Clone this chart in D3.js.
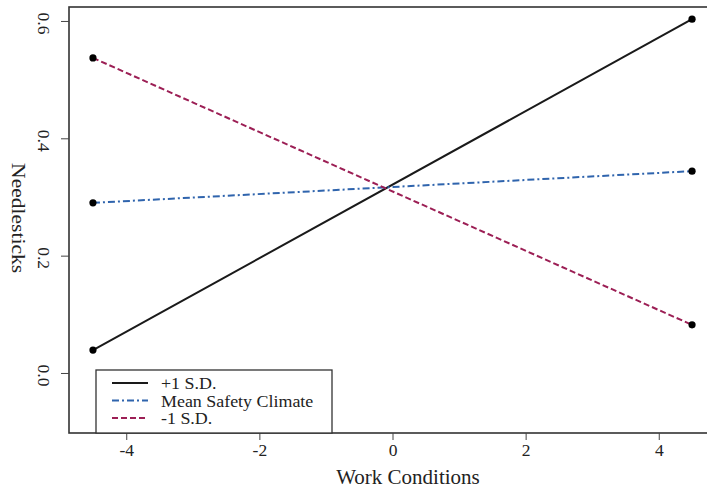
<!DOCTYPE html>
<html lang="en">
<head>
<meta charset="utf-8">
<script src="https://d3js.org/d3.v7.min.js"></script>
<style>
  body { margin: 0; background: #fff; }
  svg text { font-family: "Liberation Serif", "DejaVu Serif", serif; fill: #222; }
</style>
</head>
<body>
<svg width="707" height="489"></svg>
<script>
// values
const xEnds = [-4.5, 4.5];
const plusSD = [0.039, 0.603];
const meanSC = [0.290, 0.344];
const minusSD = [0.537, 0.082];
const xTicks = [-4, -2, 0, 2, 4];
const yTicks = [0.0, 0.2, 0.4, 0.6];
const seriesNames = ['+1 S.D.', 'Mean Safety Climate', '-1 S.D.'];

const series = [
  { name: seriesNames[0], values: plusSD, color: '#1a1a1a', dash: null },
  { name: seriesNames[1], values: meanSC, color: '#2f64ad', dash: '7,3,2,3' },
  { name: seriesNames[2], values: minusSD, color: '#9c1f55', dash: '6,3' }
];

const svg = d3.select('svg');
const pLeft = 69, pTop = 7, pBottom = 433, pRight = 716;
const tickFont = 17.5;

const x = d3.scaleLinear().domain([-4.86, 4.86]).range([pLeft, pRight]);
const y = d3.scaleLinear().domain([-0.1023, 0.6238]).range([pBottom, pTop]);

// frame
svg.append('rect')
  .attr('x', pLeft).attr('y', pTop)
  .attr('width', pRight - pLeft).attr('height', pBottom - pTop)
  .attr('fill', 'none').attr('stroke', '#333').attr('stroke-width', 1.6);

// x axis
const xAxisG = svg.append('g').attr('transform', `translate(0,${pBottom})`);
xAxisG.call(d3.axisBottom(x).tickValues(xTicks).tickSize(7).tickPadding(4)
  .tickFormat(d => d < 0 ? '-' + Math.abs(d) : d));
xAxisG.select('.domain').remove();
xAxisG.selectAll('.tick line').attr('stroke', '#444');
xAxisG.selectAll('.tick text')
  .attr('font-size', tickFont)
  .style('font-family', '"Liberation Serif", serif').attr('fill', '#222');

// y axis, labels read top to bottom
const yAxisG = svg.append('g').attr('transform', `translate(${pLeft},0)`);
yAxisG.call(d3.axisLeft(y).tickValues(yTicks).tickSize(8).tickFormat(d3.format('.1f')));
yAxisG.select('.domain').remove();
yAxisG.selectAll('.tick line').attr('stroke', '#444');
yAxisG.selectAll('.tick text')
  .attr('font-size', tickFont)
  .style('font-family', '"Liberation Serif", serif').attr('fill', '#222')
  .attr('x', null).attr('dy', null).attr('y', 0)
  .attr('text-anchor', 'middle')
  .attr('transform', 'translate(-31,2) rotate(90)');

// axis titles
svg.append('text')
  .attr('x', 408).attr('y', 484)
  .attr('text-anchor', 'middle').attr('font-size', 21)
  .text('Work Conditions');
svg.append('text')
  .attr('transform', `translate(12,${y(0.264)}) rotate(90)`)
  .attr('text-anchor', 'middle').attr('font-size', 18)
  .attr('textLength', 110).attr('lengthAdjust', 'spacingAndGlyphs')
  .text('Needlesticks');

// lines and end points
const line = d3.line().x((d, i) => x(xEnds[i])).y(d => y(d));
series.forEach(s => {
  svg.append('path')
    .attr('d', line(s.values))
    .attr('fill', 'none')
    .attr('stroke', s.color)
    .attr('stroke-width', 2)
    .attr('stroke-dasharray', s.dash);
  svg.selectAll(null).data(s.values).enter().append('circle')
    .attr('cx', (d, i) => x(xEnds[i]))
    .attr('cy', d => y(d))
    .attr('r', 3.6)
    .attr('fill', '#000');
});

// legend (tight rows like the original, text widened a little)
const lg = svg.append('g');
lg.append('rect')
  .attr('x', 96).attr('y', 370).attr('width', 236).attr('height', pBottom - 370)
  .attr('fill', '#fff').attr('stroke', '#333').attr('stroke-width', 1.3);
series.forEach((s, i) => {
  const ly = 383 + i * 17.5;
  lg.append('line')
    .attr('x1', 112).attr('x2', 148).attr('y1', ly).attr('y2', ly)
    .attr('stroke', s.color).attr('stroke-width', 2)
    .attr('stroke-dasharray', s.dash);
  const t = lg.append('text')
    .attr('x', 161).attr('y', ly + 6)
    .attr('font-size', 16)
    .text(s.name);
  const w = t.node().getComputedTextLength();
  t.attr('textLength', w * 1.12).attr('lengthAdjust', 'spacingAndGlyphs');
});
</script>
</body>
</html>
